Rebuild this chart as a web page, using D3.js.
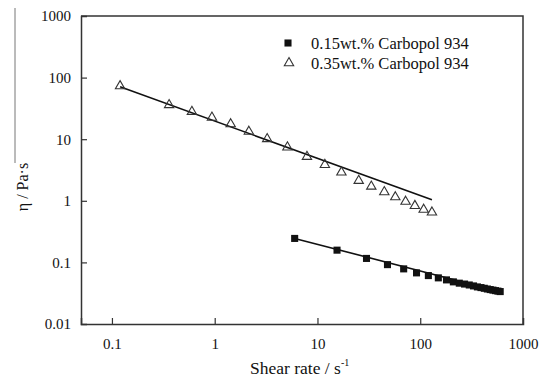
<!DOCTYPE html>
<html>
<head>
<meta charset="utf-8">
<script src="https://d3js.org/d3.v7.min.js"></script>
<style>
  body { margin: 0; background: #fff; }
  svg { display: block; font-family: "Liberation Serif", "Times New Roman", serif; }
</style>
</head>
<body>
<svg></svg>
<script>
// 0.15wt.% Carbopol 934 (squares)
var rateLow = [6, 15.5, 30, 48, 69, 92, 120, 150, 180, 210, 240, 270, 300, 330, 360, 390, 420, 450, 480, 510, 540, 570, 600];
var etaLow  = [0.245, 0.158, 0.116, 0.092, 0.0785, 0.0676, 0.0611, 0.0561, 0.052, 0.0483, 0.046, 0.0445, 0.043, 0.0415, 0.040, 0.039, 0.038, 0.037, 0.0362, 0.0355, 0.0348, 0.0342, 0.0336];

// 0.35wt.% Carbopol 934 (triangles)
var rateHigh = [0.12, 0.36, 0.6, 0.94, 1.43, 2.15, 3.24, 5.1, 7.9, 11.8, 17.1, 25.2, 33.4, 44.7, 57.2, 72, 88.7, 108, 130];
var etaHigh  = [73, 36, 28, 22.5, 17.6, 13.3, 10.1, 7.4, 5.2, 3.85, 2.9, 2.12, 1.71, 1.39, 1.15, 0.97, 0.83, 0.72, 0.65];

// power-law fit lines (end points)
var fitLowRate = [6, 600], fitLowEta = [0.245, 0.0335];
var fitHighRate = [0.12, 130], fitHighEta = [71, 1.04];

var xTicks = [0.1, 1, 10, 100, 1000];
var yTicks = [0.01, 0.1, 1, 10, 100, 1000];
var legendLabels = ['0.15wt.% Carbopol 934', '0.35wt.% Carbopol 934'];

var W = 547, H = 382;
var mLeft = 81, mRight = 523, mTop = 16, mBottom = 324;

var svg = d3.select('svg').attr('width', W).attr('height', H);

var x = d3.scaleLog().domain([0.05, 1000]).range([mLeft, mRight]);
var y = d3.scaleLog().domain([0.01, 1000]).range([mBottom, mTop]);

var axisColor = '#333';

// stray edge line at the far left of the original figure
svg.append('line')
    .attr('x1', 15).attr('x2', 15).attr('y1', 8).attr('y2', 163)
    .attr('stroke', '#777').attr('stroke-width', 1);

// frame: top and right
svg.append('path')
    .attr('d', 'M' + mLeft + ',' + mTop + 'H' + mRight + 'V' + mBottom)
    .attr('fill', 'none').attr('stroke', axisColor).attr('stroke-width', 1.5);

var xAxis = svg.append('g')
    .attr('transform', 'translate(0,' + mBottom + ')')
    .call(d3.axisBottom(x).tickValues(xTicks).tickSize(-6).tickPadding(14)
          .tickFormat(function(d) { return String(d); }));

var yAxis = svg.append('g')
    .attr('transform', 'translate(' + mLeft + ',0)')
    .call(d3.axisLeft(y).tickValues(yTicks).tickSize(-6).tickPadding(10)
          .tickFormat(function(d) { return String(d); }));

[xAxis, yAxis].forEach(function(a) {
  a.select('.domain').attr('stroke', axisColor).attr('stroke-width', 1.5);
  a.selectAll('.tick line').attr('stroke', axisColor).attr('stroke-width', 1.2);
  a.selectAll('.tick text')
    .attr('fill', '#111')
    .style('font-family', '"Liberation Serif", serif')
    .style('font-size', '15px');
});
// no tick marks on the frame corners
xAxis.selectAll('.tick').filter(function(d) { return d === 1000; }).select('line').remove();
yAxis.selectAll('.tick').filter(function(d) { return d === 1000 || d === 0.01; }).select('line').remove();

// fit lines
var line = d3.line()
    .x(function(d) { return x(d[0]); })
    .y(function(d) { return y(d[1]); });

svg.append('path')
    .datum(d3.zip(fitLowRate, fitLowEta))
    .attr('d', line).attr('fill', 'none')
    .attr('stroke', '#111').attr('stroke-width', 1.6);

svg.append('path')
    .datum(d3.zip(fitHighRate, fitHighEta))
    .attr('d', line).attr('fill', 'none')
    .attr('stroke', '#111').attr('stroke-width', 1.6);

// markers
var sq = d3.symbol().type(d3.symbolSquare).size(50);
var tri = d3.symbol().type(d3.symbolTriangle).size(38);

svg.append('g').selectAll('path')
    .data(d3.zip(rateLow, etaLow))
    .enter().append('path')
    .attr('d', sq)
    .attr('transform', function(d) { return 'translate(' + x(d[0]) + ',' + y(d[1]) + ')'; })
    .attr('fill', '#111');

svg.append('g').selectAll('path')
    .data(d3.zip(rateHigh, etaHigh))
    .enter().append('path')
    .attr('d', tri)
    .attr('transform', function(d) { return 'translate(' + x(d[0]) + ',' + y(d[1]) + ')'; })
    .attr('fill', 'none')
    .attr('stroke', '#333').attr('stroke-width', 1.1);

// legend
var legend = svg.append('g');
legend.append('path').attr('d', sq).attr('transform', 'translate(288,43)').attr('fill', '#111');
legend.append('path').attr('d', tri).attr('transform', 'translate(289,63)')
    .attr('fill', 'none').attr('stroke', '#333').attr('stroke-width', 1.1);
legend.selectAll('text')
    .data(legendLabels)
    .enter().append('text')
    .attr('x', 311)
    .attr('y', function(d, i) { return 43 + i * 20; })
    .attr('dy', '0.35em')
    .attr('fill', '#111')
    .style('font-size', '16.5px')
    .text(function(d) { return d; });

// axis titles
var xt = svg.append('text')
    .attr('x', 250).attr('y', 374)
    .attr('fill', '#111')
    .style('font-size', '17.5px');
xt.append('tspan').text('Shear rate / s');
xt.append('tspan').attr('dy', -8).style('font-size', '10px').text('-1');

svg.append('text')
    .attr('transform', 'translate(28,187) rotate(-90)')
    .attr('text-anchor', 'middle')
    .attr('fill', '#111')
    .style('font-size', '16px')
    .text('η / Pa·s');
</script>
</body>
</html>
